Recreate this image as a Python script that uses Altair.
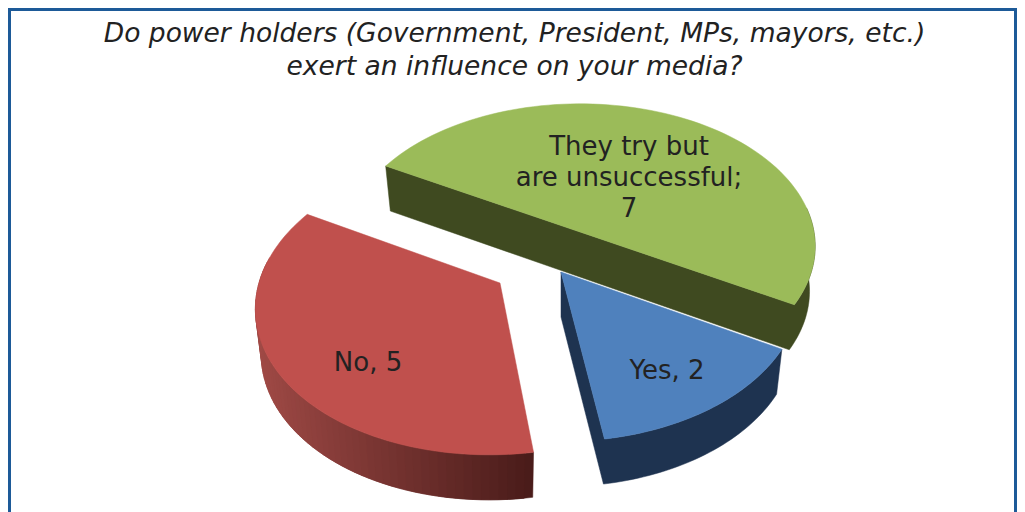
import math
import altair as alt

# --- data ---
categories = ["Yes", "No", "They try but are unsuccessful"]
values = [2, 5, 7]
label_lines = [["Yes, 2"], ["No, 5"], ["They try but", "are unsuccessful;", "7"]]
top_colors = ["#4f81bd", "#c0504d", "#9bbb59"]
wall_colors = ["#1e3350", "#8f403d", "#3f4a20"]
title_lines = ["Do power holders (Government, President, MPs, mayors, etc.)",
               "exert an influence on your media?"]

# --- style of the 3D pie: explosion centre, radii, perspective and skew of each slice ---
geom = {
    "Yes": dict(c=(561, 272), A=237.0, B=147.0, P=0.133, sk=0.0),
    "No": dict(c=(500, 283), A=241.0, B=149.0, P=0.133, sk=-0.063),
    "They try but are unsuccessful": dict(c=(580, 232), A=234.0, B=141.0, P=0.10, sk=0.0),
}
label_pos = [(667, 371), (368, 363), (629, 147)]
DEPTH, SHRINK = 45.0, 0.976
START = 29.4


def project(cat, deg, lower=False):
    g = geom[cat]
    t = math.radians(deg)
    X, Y = math.cos(t), math.sin(t)
    w = 1 - g["P"] * Y
    y = g["B"] * Y / w
    x = g["A"] * X / w + g["sk"] * y
    ax, ay = g["c"]
    if lower:
        return [ax + x * SHRINK, ay + y + DEPTH]
    return [ax + x, ay + y]


def feature(ring, fill):
    return {"type": "Feature", "properties": {"fill": fill},
            "geometry": {"type": "Polygon", "coordinates": [ring + [ring[0]]]}}


def mix(c1, c2, f):
    a = [int(c1[i:i + 2], 16) for i in (1, 3, 5)]
    b = [int(c2[i:i + 2], 16) for i in (1, 3, 5)]
    return "#" + "".join(f"{round(p + (q - p) * f):02x}" for p, q in zip(a, b))


total = sum(values)
spans = []
cur = START
for v in values:
    spans.append((cur, cur + v * 360 / total))
    cur += v * 360 / total


def sweep(a0, a1, n):
    return [a0 + (a1 - a0) * i / n for i in range(n + 1)]


def band(cat, steps, fill):
    return feature([project(cat, s) for s in steps]
                   + [project(cat, s, True) for s in reversed(steps)], fill)


features = {}
for cat, (a0, a1), top, wall in zip(categories, spans, top_colors, wall_colors):
    ax, ay = geom[cat]["c"]
    base = [ax, ay]
    drop = [ax, ay + DEPTH]
    fs = []
    if cat == "Yes":
        arc = sweep(a0, a1, 40)
        fs.append(feature([drop] + [project(cat, s, True) for s in reversed(arc)]
                          + [project(cat, s) for s in arc] + [base], wall))
    elif cat == "No":
        x_right = project(cat, a0)[0]
        x_left = ax - geom[cat]["A"] * 1.02
        steps = sweep(a0, 190, 60)
        for i in range(len(steps) - 2):
            f = (project(cat, steps[i])[0] - x_left) / (x_right - x_left)
            c = mix("#a04a46", "#4a1c1a", max(0.0, min(1.0, f)))
            fs.append(band(cat, [steps[i], steps[i + 1], steps[i + 2]], c))
    else:
        # the straight cut of the half disc together with the visible part of its rim
        arc = sweep(a1, 350, 30)
        fs.append(feature([project(cat, a0, True)] + [project(cat, s, True) for s in arc]
                          + [project(cat, s) for s in reversed(arc)] + [project(cat, a0)], wall))
    fs.append(feature([base] + [project(cat, s) for s in sweep(a0, a1, 90)], top))
    features[cat] = fs

ordered = features[categories[2]] + features[categories[0]] + features[categories[1]]

pie = (
    alt.Chart(alt.Data(values=ordered))
    .mark_geoshape(strokeWidth=0.5)
    .encode(fill=alt.Fill("properties.fill:N", scale=None),
            stroke=alt.Stroke("properties.fill:N", scale=None))
    .project(type="identity", scale=1, translate=[-8, -8])
)

labels = [
    alt.Chart(alt.Data(values=[{"t": "\n".join(lines)}]))
    .mark_text(font="DejaVu Sans", fontSize=26, color="#222222", lineBreak="\n",
               lineHeight=31, align="center", baseline="middle")
    .encode(text="t:N", x=alt.value(p[0] - 8), y=alt.value(p[1] - 8))
    for lines, p in zip(label_lines, label_pos)
]

FRAME = "#1d5a98"
frame_data = alt.Data(values=[{"a": 0}])
frame = [
    alt.Chart(frame_data).mark_rule(color=FRAME, strokeWidth=3)
    .encode(x=alt.value(1.5), y=alt.value(1), y2=alt.value(504)),
    alt.Chart(frame_data).mark_rule(color=FRAME, strokeWidth=3)
    .encode(x=alt.value(1007.5), y=alt.value(1), y2=alt.value(504)),
    alt.Chart(frame_data).mark_rule(color=FRAME, strokeWidth=3)
    .encode(y=alt.value(1.5), x=alt.value(0), x2=alt.value(1009)),
]

chart = (
    alt.layer(*frame, pie, *labels)
    .properties(
        width=1009, height=504, padding=0,
        autosize=alt.AutoSizeParams(type="none"),
        background="white",
        title=alt.TitleParams(text=title_lines, font="DejaVu Sans", fontSize=26.5,
                              fontStyle="italic", fontWeight="normal", color="#222222",
                              anchor="middle", lineHeight=33, offset=-73, dx=2),
    )
    .configure_view(stroke=None)
)

chart.save("out.html", embed_options={"renderer": "svg", "actions": False})
